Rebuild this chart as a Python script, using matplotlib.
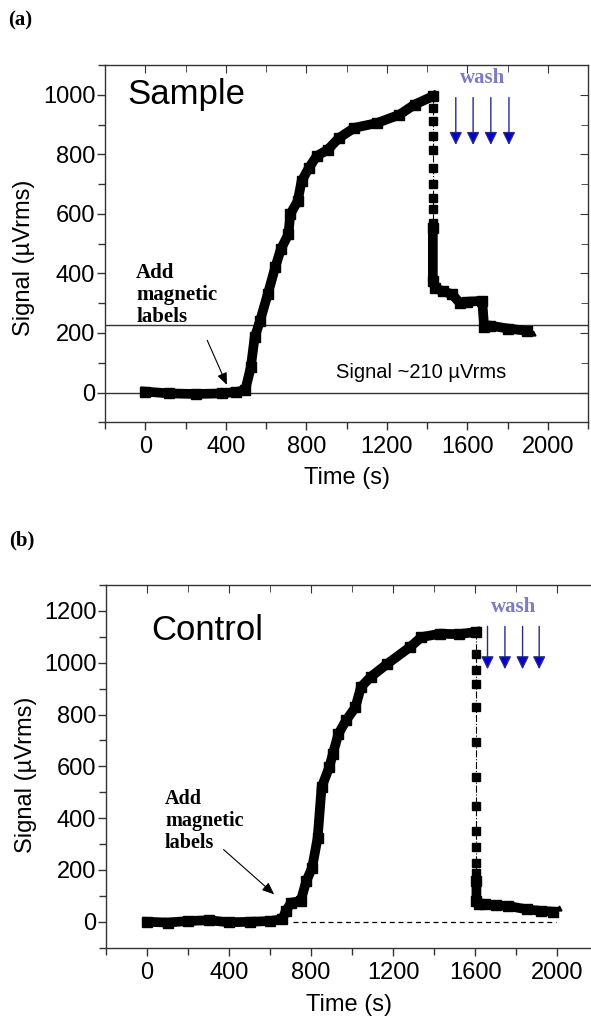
import matplotlib
matplotlib.use("Agg")
import matplotlib.pyplot as plt
from matplotlib.ticker import MultipleLocator

# panel (a) - sample
time_a = [0, 120, 250, 380, 450, 496, 524, 543, 570, 608, 645, 673, 711, 720,
          757, 776, 813, 851, 907, 962, 1038, 1150, 1262, 1337, 1428]
signal_a = [3, -3, -5, -3, 2, 7, 85, 185, 241, 330, 420, 481, 532, 599,
            643, 710, 755, 794, 816, 855, 889, 905, 933, 967, 995]
drop_t_a = [1428] * 11
drop_s_a = [995, 956, 911, 861, 816, 755, 699, 654, 615, 570, 553]
after_t_a = [1428, 1428, 1440, 1480, 1523, 1561, 1600, 1673, 1683, 1710, 1800, 1897]
after_s_a = [553, 375, 350, 340, 330, 302, 305, 308, 219, 225, 215, 207]
end_a = (1925, 200)
ref_levels_a = [0, 228]
wash_x_a = [1542, 1628, 1716, 1806]

# panel (b) - control
time_b = [0, 100, 200, 300, 400, 500, 600, 660, 676, 703, 749, 777, 805, 832,
          851, 888, 906, 933, 970, 1016, 1043, 1090, 1172, 1283, 1338, 1430,
          1520, 1604]
signal_b = [0, -3, 3, 6, -2, 0, 3, 10, 41, 74, 80, 158, 209, 325,
            519, 596, 648, 725, 777, 828, 906, 945, 996, 1061, 1099, 1112,
            1110, 1119]
drop_t_b = [1606] * 13
drop_s_b = [1119, 1035, 971, 919, 828, 693, 557, 448, 351, 287, 228, 190, 158]
after_t_b = [1606, 1606, 1620, 1650, 1700, 1761, 1852, 1920, 1981]
after_s_b = [158, 80, 70, 68, 63, 61, 48, 42, 39]
end_b = (2008, 55)
baseline_b = [713, 1996]
wash_x_b = [1660, 1745, 1831, 1912]

sans = 'Liberation Sans'
serif = 'Liberation Serif'

fig = plt.figure(figsize=(5.91, 10.17), dpi=100)
ax_a = fig.add_axes([105 / 591, 1 - 422.3 / 1017, 483.3 / 591, 357.3 / 1017])
ax_b = fig.add_axes([106 / 591, 1 - 947.7 / 1017, 485 / 591, 362.7 / 1017])


def style_axes(ax, xlim, ylim, right=True):
    ax.set_xlim(*xlim)
    ax.set_ylim(*ylim)
    ax.xaxis.set_major_locator(MultipleLocator(400))
    ax.xaxis.set_minor_locator(MultipleLocator(200))
    ax.yaxis.set_major_locator(MultipleLocator(200))
    ax.yaxis.set_minor_locator(MultipleLocator(100))
    for s in ax.spines.values():
        s.set_color('#333333')
        s.set_linewidth(1)
    ax.spines['right'].set_visible(right)
    ax.tick_params(which='both', direction='out', color='#333333', width=1)
    ax.tick_params(which='major', length=6)
    ax.tick_params(which='minor', length=5)
    ax.tick_params(axis='x', pad=4)
    ax.tick_params(axis='y', pad=1)
    for lab in ax.get_xticklabels() + ax.get_yticklabels():
        lab.set_family(sans)
        lab.set_fontsize(17)
    top = ax.secondary_xaxis('top')
    top.xaxis.set_major_locator(MultipleLocator(400))
    top.xaxis.set_minor_locator(MultipleLocator(200))
    top.tick_params(which='both', direction='in', labeltop=False, color='#333333')
    top.tick_params(which='major', length=6)
    top.tick_params(which='minor', length=5)
    top.spines['top'].set_visible(False)
    if right:
        rt = ax.secondary_yaxis('right')
        rt.yaxis.set_major_locator(MultipleLocator(200))
        rt.yaxis.set_minor_locator(MultipleLocator(100))
        rt.tick_params(which='both', direction='in', labelright=False, color='#333333')
        rt.tick_params(which='major', length=6)
        rt.tick_params(which='minor', length=5)
        rt.spines['right'].set_visible(False)
    ax.set_xlabel('Time (s)', family=sans, fontsize=17, va='center')
    ax.set_ylabel('Signal (\u00b5Vrms)', family=sans, fontsize=17, va='center')


def draw_curve(ax, t, s, dt, ds, at, as_, end):
    ax.plot(t, s, color='black', lw=7, marker='s', ms=7, solid_joinstyle='miter')
    ax.plot(dt, ds, color='black', lw=0.8, ls='-.', marker='s', ms=5.5)
    ax.plot(at, as_, color='black', lw=7, marker='s', ms=7)
    ax.plot(*end, marker='^', color='black', ms=3.5)


def draw_wash(ax, xs, top, tip, text_y):
    for x in xs:
        ax.annotate('', xy=(x, tip), xytext=(x, top),
                    arrowprops=dict(arrowstyle='-|>,head_length=0.65,head_width=0.32',
                                    mutation_scale=12, lw=1,
                                    ec='#2a2a86', fc='#0000cc'))
    ax.text(sum(xs) / len(xs), text_y, 'wash', family=serif, fontweight='bold',
            fontsize=15, color='#7c7cc4', ha='center', va='center')


# (a)
style_axes(ax_a, (-200, 2200), (-100, 1100))
for lvl in ref_levels_a:
    ax_a.axhline(lvl, color='#333333', lw=1)
draw_curve(ax_a, time_a, signal_a, drop_t_a, drop_s_a, after_t_a, after_s_a, end_a)
draw_wash(ax_a, wash_x_a, 1000, 822, 1055)
ax_a.text(-88, 1002, 'Sample', family=sans, fontsize=25, va='center', ha='left')
ax_a.text(947, 67, 'Signal ~210 \u00b5Vrms', family=sans, fontsize=14.5,
          va='center', ha='left')
ax_a.text(-45, 436, 'Add\nmagnetic\nlabels', family=serif, fontweight='bold',
          fontsize=15, va='top', ha='left', linespacing=1.15)
ax_a.annotate('', xy=(411, 17), xytext=(302, 184),
              arrowprops=dict(arrowstyle='-|>,head_length=0.6,head_width=0.25',
                              mutation_scale=12, lw=0.8, color='black'))
ax_a.yaxis.set_label_coords(-0.168, 0.46)
ax_a.xaxis.set_label_coords(0.5, -0.157)

# (b)
style_axes(ax_b, (-200, 2164.6), (-100, 1300), right=False)
ax_b.plot(baseline_b, [0, 0], color='black', lw=0.9, ls=(0, (4, 3)))
draw_curve(ax_b, time_b, signal_b, drop_t_b, drop_s_b, after_t_b, after_s_b, end_b)
draw_wash(ax_b, wash_x_b, 1151, 964, 1216)
ax_b.text(20, 1125, 'Control', family=sans, fontsize=25, va='center', ha='left')
ax_b.text(88, 514, 'Add\nmagnetic\nlabels', family=serif, fontweight='bold',
          fontsize=14.5, va='top', ha='left', linespacing=1.15)
ax_b.annotate('', xy=(630, 99), xytext=(363, 286),
              arrowprops=dict(arrowstyle='-|>,head_length=0.6,head_width=0.25',
                              mutation_scale=12, lw=0.8, color='black'))
ax_b.yaxis.set_label_coords(-0.165, 0.477)
ax_b.xaxis.set_label_coords(0.5, -0.158)

fig.text(8 / 591, 1 - 20 / 1017, '(a)', family=serif, fontweight='bold',
         fontsize=15, va='center', ha='left')
fig.text(9 / 591, 1 - 540 / 1017, '(b)', family=serif, fontweight='bold',
         fontsize=15, va='center', ha='left')

fig.savefig('out.png', dpi=100)
